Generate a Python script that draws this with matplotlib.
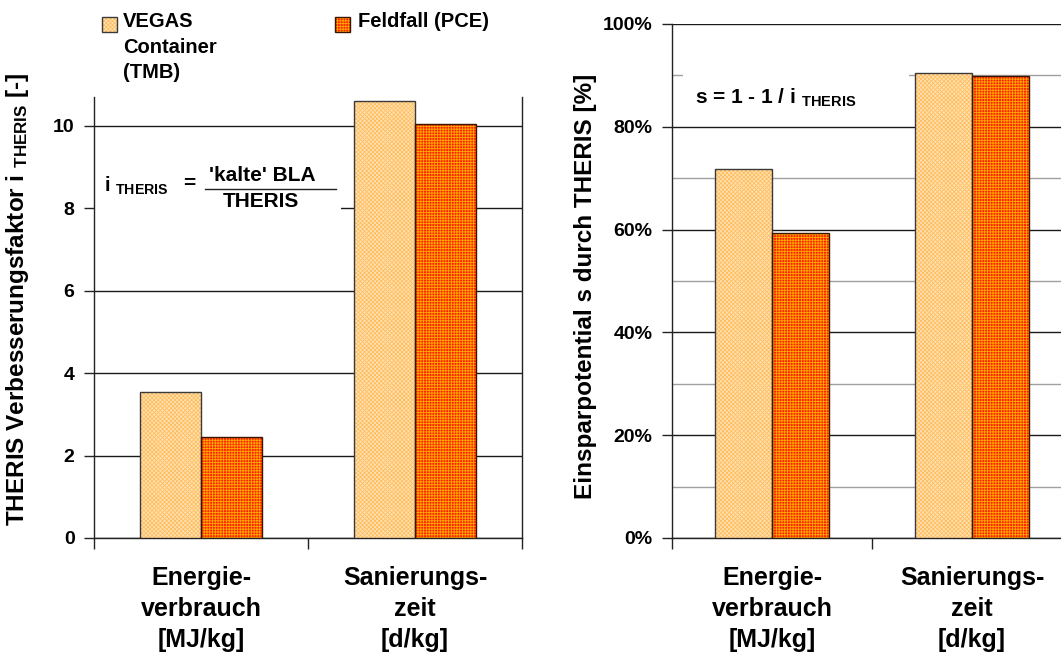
import matplotlib
matplotlib.use("Agg")
import matplotlib.pyplot as plt
from matplotlib.patches import Rectangle
from matplotlib.lines import Line2D
from matplotlib.ticker import FuncFormatter, MultipleLocator
import numpy as np

plt.rcParams['font.family'] = ['Liberation Sans', 'DejaVu Sans']
plt.rcParams['font.weight'] = 'bold'
plt.rcParams['mathtext.fontset'] = 'custom'
plt.rcParams['mathtext.rm'] = 'Liberation Sans:bold'
plt.rcParams['mathtext.bf'] = 'Liberation Sans:bold'
plt.rcParams['mathtext.it'] = 'Liberation Sans:bold'
plt.rcParams['mathtext.default'] = 'regular'
plt.rcParams['hatch.linewidth'] = 0.6

# ---- data ----
categories = ["Energie-\nverbrauch\n[MJ/kg]", "Sanierungs-\nzeit\n[d/kg]"]
series_names = ["VEGAS\nContainer\n(TMB)", "Feldfall (PCE)"]
factor_vegas = [3.55, 10.6]
factor_feld = [2.45, 10.05]
pct_vegas = [71.7, 90.4]
pct_feld = [59.3, 89.9]
factor_ticks = [0, 2, 4, 6, 8, 10]
pct_ticks = [0, 20, 40, 60, 80, 100]

# ---- styles ----
vegas_face, vegas_hatch, vegas_edge = '#FFE2B4', '#FFBE60', '#3a3a3a'
feld_face, feld_hatch, feld_edge = '#FF2200', '#FFA800', '#3a1500'
vegas_pat, feld_pat = 'xxxxxxxx', '++++++'

W, H = 1061, 660
fig = plt.figure(figsize=(W / 100, H / 100), dpi=100)

def px_axes(l, r, t, b):
    return fig.add_axes([l / W, 1 - b / H, (r - l) / W, (b - t) / H])

ax1 = px_axes(94, 522, 97, 538)
ax2 = px_axes(672, 1072, 24, 538)

def draw_bars(ax, v1, v2, width):
    x = np.arange(len(categories)) + 0.5
    ax.bar(x - width / 2, v1, width, color=vegas_face, hatch=vegas_pat,
           edgecolor=vegas_hatch, linewidth=0, zorder=3)
    ax.bar(x - width / 2, v1, width, fill=False, edgecolor=vegas_edge,
           linewidth=1.0, zorder=4)
    ax.bar(x + width / 2, v2, width, color=feld_face, hatch=feld_pat,
           edgecolor=feld_hatch, linewidth=0, zorder=3)
    ax.bar(x + width / 2, v2, width, fill=False, edgecolor=feld_edge,
           linewidth=1.0, zorder=4)
    ax.set_xlim(0, len(categories))
    ax.set_xticks(np.arange(len(categories) + 1))
    ax.set_xticklabels([])
    ax.set_xticks(x, minor=True)
    ax.set_xticklabels(categories, minor=True, fontsize=18, fontweight='bold',
                       linespacing=1.38)
    ax.tick_params(axis='x', which='major', direction='out', length=8,
                   width=1, color='#222222')
    ax.tick_params(axis='x', which='minor', length=0, pad=20)
    ax.spines['top'].set_visible(False)
    for s in ['left', 'bottom', 'right']:
        ax.spines[s].set_color('#222222')
        ax.spines[s].set_linewidth(1.0)
    ax.tick_params(axis='y', which='major', direction='out', length=7,
                   width=1, color='#222222', labelsize=14, pad=7)
    ax.set_axisbelow(True)

# ---- left chart ----
draw_bars(ax1, factor_vegas, factor_feld, 0.286)
ax1.set_ylim(0, 10.7)
ax1.set_yticks(factor_ticks)
ax1.set_yticklabels([str(t) for t in factor_ticks], fontweight='bold')
ax1.yaxis.grid(True, color='#1a1a1a', linewidth=1.0, zorder=0)
ax1.set_ylabel(r"THERIS Verbesserungsfaktor i $_{\mathrm{THERIS}}$ [-]",
               fontsize=17.5, fontweight='bold')
ax1.yaxis.set_label_coords(-0.148, 0.54)

# formula box (white background hides the grid line)
ax1.add_patch(Rectangle((0.003, 0.739), 0.574, 0.14, transform=ax1.transAxes,
                        facecolor='white', edgecolor='none', zorder=1.5))
ax1.text(0.023, 0.798, r"i $_{\mathrm{THERIS}}$", transform=ax1.transAxes,
         fontsize=14.5, ha='left', va='center', zorder=5)
ax1.text(0.208, 0.803, "=", transform=ax1.transAxes, fontsize=15,
         ha='left', va='center', zorder=5)
ax1.text(0.394, 0.823, "'kalte' BLA", transform=ax1.transAxes, fontsize=15,
         ha='center', va='center', zorder=5)
ax1.add_line(Line2D([0.259, 0.565], [0.791, 0.791], transform=ax1.transAxes,
                    color='#222222', linewidth=1.0, zorder=5))
ax1.text(0.39, 0.762, "THERIS", transform=ax1.transAxes, fontsize=15,
         ha='center', va='center', zorder=5)

# ---- right chart ----
draw_bars(ax2, pct_vegas, pct_feld, 0.285)
ax2.set_ylim(0, 100)
ax2.set_yticks(pct_ticks)
ax2.yaxis.set_major_formatter(FuncFormatter(lambda v, p: f"{int(v)}%"))
ax2.yaxis.set_minor_locator(MultipleLocator(10))
ax2.tick_params(axis='y', which='minor', length=0)
ax2.yaxis.grid(True, which='major', color='#1a1a1a', linewidth=1.0, zorder=0)
ax2.yaxis.grid(True, which='minor', color='#a0a0a0', linewidth=1.0, zorder=0)
ax2.set_ylabel("Einsparpotential s durch THERIS [%]", fontsize=17.5,
               fontweight='bold')
ax2.yaxis.set_label_coords(-0.1875, 0.49)

ax2.add_patch(Rectangle((0.028, 0.815), 0.565, 0.1, transform=ax2.transAxes,
                        facecolor='white', edgecolor='none', zorder=1.5))
ax2.text(0.0575, 0.857, r"s = 1 - 1 / i $_{\mathrm{THERIS}}$",
         transform=ax2.transAxes, fontsize=15,
         ha='left', va='center', zorder=5)

# ---- legend (figure level) ----
def legend_item(x, y, face, hatch, hcol, edge):
    fig.add_artist(Rectangle((x / W, 1 - (y + 15) / H), 15 / W, 15 / H,
                             transform=fig.transFigure, facecolor=face,
                             hatch=hatch, edgecolor=hcol, linewidth=0))
    fig.add_artist(Rectangle((x / W, 1 - (y + 15) / H), 15 / W, 15 / H,
                             transform=fig.transFigure, fill=False,
                             edgecolor=edge, linewidth=1.0))

legend_item(102, 17, vegas_face, vegas_pat, vegas_hatch, vegas_edge)
fig.text(123 / W, 1 - 12 / H, series_names[0], fontsize=14.5, fontweight='bold',
         ha='left', va='top', linespacing=1.45)
legend_item(335, 17, feld_face, feld_pat, feld_hatch, feld_edge)
fig.text(358 / W, 1 - 12 / H, series_names[1], fontsize=14.5, fontweight='bold',
         ha='left', va='top')

fig.savefig("out.png", dpi=100)
